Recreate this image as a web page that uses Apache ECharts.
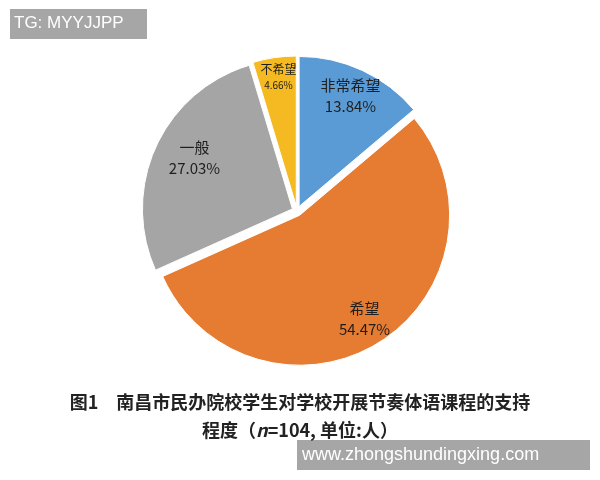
<!DOCTYPE html>
<html>
<head>
<meta charset="utf-8">
<script src="https://cdn.jsdelivr.net/npm/echarts@6/dist/echarts.min.js"></script>
<style>
  html, body { margin: 0; padding: 0; background: #fff; }
  #pie { width: 600px; height: 480px; }
</style>
</head>
<body>
<div id="pie"></div>
<script type="text/javascript">
// 支持程度
var categories = ["非常希望", "希望", "一般", "不希望"];
var percents = [13.84, 54.47, 27.03, 4.66];

var pieData = [];
var labelData = [];
for (var i = 0; i < categories.length; i++) {
  pieData.push({ name: categories[i], value: percents[i], selected: true });
  labelData.push({ name: categories[i], value: percents[i] });
}
// 小扇区标签字号小一点
labelData[3].label = {
  formatter: "{a|{b}}\n{p|{c}%}",
  padding: [0, 0, 18, 0],
  rich: {
    a: { fontSize: 12, lineHeight: 17, color: "#1e1e1e" },
    p: { fontSize: 10, lineHeight: 13, color: "#1e1e1e" }
  }
};
labelData[2].label = { padding: [0, 0, 0, 26] };

var myChart = echarts.init(document.getElementById("pie"));
var option = {
  color: ["#5b9bd5", "#e67c32", "#a5a5a5", "#f5b921"],
  animation: false,
  title: {
    text: "图1　南昌市民办院校学生对学校开展节奏体语课程的支持\n程度（{n|n}=104, 单位:人）",
    left: "center",
    top: 383,
    textStyle: {
      fontFamily: "Noto Sans CJK SC",
      fontSize: 18,
      fontWeight: "bold",
      lineHeight: 28,
      color: "#222",
      align: "center",
      rich: {
        n: {
          fontFamily: "Noto Sans CJK SC",
          fontSize: 18,
          fontStyle: "italic",
          fontWeight: "bold",
          color: "#222"
        }
      }
    }
  },
  graphic: [
    {
      type: "rect",
      left: 10,
      top: 9,
      shape: { width: 137, height: 30 },
      style: { fill: "#a6a6a6" }
    },
    {
      type: "text",
      left: 14,
      top: 15,
      style: { text: "TG: MYYJJPP", fill: "#fff", font: "17px 'Liberation Sans'" }
    },
    {
      type: "rect",
      left: 297,
      top: 440,
      shape: { width: 293, height: 30 },
      style: { fill: "#a6a6a6" }
    },
    {
      type: "text",
      left: 302,
      top: 446,
      style: { text: "www.zhongshundingxing.com", fill: "#fff", font: "18px 'Liberation Sans'" }
    }
  ],
  series: [
    {
      type: "pie",
      center: [297, 211],
      radius: 150,
      startAngle: 90,
      clockwise: true,
      selectedMode: "multiple",
      selectedOffset: 5,
      silent: true,
      label: { show: false },
      labelLine: { show: false },
      itemStyle: { borderColor: "#fff", borderWidth: 1 },
      data: pieData
    },
    {
      // 只用来放标签
      type: "pie",
      z: 10,
      center: [297, 211],
      radius: [106, 142],
      startAngle: 90,
      clockwise: true,
      silent: true,
      avoidLabelOverlap: false,
      itemStyle: { color: "rgba(255,255,255,0)", borderWidth: 0 },
      label: {
        show: true,
        position: "inside",
        formatter: "{b}\n{c}%",
        fontFamily: "Noto Sans CJK SC",
        fontSize: 15,
        lineHeight: 21,
        color: "#1e1e1e"
      },
      labelLine: { show: false },
      data: labelData
    }
  ]
};
myChart.setOption(option);
</script>
</body>
</html>
